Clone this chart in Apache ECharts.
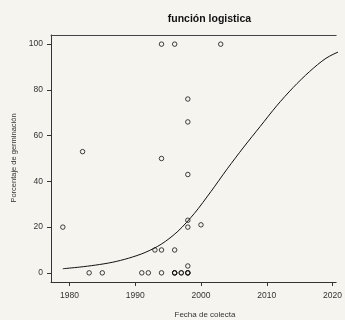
<!DOCTYPE html>
<html>
<head>
<meta charset="utf-8">
<script src="https://cdn.jsdelivr.net/npm/echarts@6/dist/echarts.min.js"></script>
<style>
html,body{margin:0;padding:0;background:#f6f4ef;}
#chart{width:345px;height:320px;}
</style>
</head>
<body>
<div id="chart"></div>
<script>
// Observed points
var pointYears  = [1979,1982,1983,1985,1991,1992,1993,1994,1994,1994,1994,1996,1996,1996,1996,1996,1997,1997,1998,1998,1998,1998,1998,1998,1998,1998,1998,2000,2003];
var pointValues = [20,  53,  0,   0,   0,   0,   10,  100, 50,  10,  0,   100, 10,  0,   0,   0,   0,   0,   76,  66,  43,  23,  20,  3,   0,   0,   0,   21,  100];
// Fitted logistic curve
var curveYears  = [1979,1981.5,1984,1986.5,1989,1991.5,1994,1996.5,1999,2001.5,2004,2006.5,2009,2011.5,2014,2016.5,2019,2021.5,2024];
var curveValues = [1.8, 2.5,   3.4, 4.6,   6.4, 8.9,   12.6,18.2,  26,  35.5,  45.5,55,    64,  73,    81,  88,    93.8,97.3,  99];
// Tick labels
var xTicks = [1980,1990,2000,2010,2020];
var yTicks = [0,20,40,60,80,100];

var scatterData = pointYears.map(function(y,i){return [y, pointValues[i]];});
var curveData = curveYears.map(function(y,i){return [y, curveValues[i]];});

var chart = echarts.init(document.getElementById('chart'), null, {renderer:'canvas'});
var font = 'Liberation Sans, Arial, Helvetica, sans-serif';
var fmt = function(v){return String(v);};
chart.setOption({
  backgroundColor:'#f6f4ef',
  animation:false,
  title:{
    text:'función logistica',
    left:204.5, top:9, textAlign:'center',
    textStyle:{fontFamily:font, fontSize:10.5, fontWeight:'bold', color:'#111'}
  },
  grid:{left:51, top:35, bottom:38, right:0, show:false},
  xAxis:[{
    type:'value', min:1977.2, max:2020.55, position:'bottom',
    axisLine:{show:true, onZero:false, lineStyle:{color:'#333', width:1}},
    splitLine:{show:false},
    axisTick:{show:true, length:4, inside:false, customValues:xTicks, lineStyle:{color:'#333'}},
    axisLabel:{show:true, margin:9, customValues:xTicks, formatter:fmt, fontFamily:font, fontSize:8.5, color:'#333'}
  },{
    type:'value', min:1977.2, max:2020.55, position:'top',
    axisLine:{show:true, onZero:false, lineStyle:{color:'#444', width:1}},
    splitLine:{show:false}, axisTick:{show:false}, axisLabel:{show:false}
  }],
  yAxis:{
    type:'value', min:-4, max:104,
    axisLine:{show:true, onZero:false, lineStyle:{color:'#333', width:1}},
    splitLine:{show:false},
    axisTick:{show:true, length:4, inside:false, customValues:yTicks, lineStyle:{color:'#333'}},
    axisLabel:{show:true, margin:8, customValues:yTicks, formatter:fmt, fontFamily:font, fontSize:8.5, color:'#333'}
  },
  graphic:[
    {type:'text', x:205, y:315, style:{text:'Fecha de colecta', textAlign:'center', textVerticalAlign:'middle', font:'8px '+font, fill:'#333'}},
    {type:'text', x:14, y:158, rotation:Math.PI/2, style:{text:'Porcentaje de germinación', textAlign:'center', textVerticalAlign:'middle', font:'7.5px '+font, fill:'#333'}}
  ],
  series:[
    {type:'line', data:curveData, smooth:0.3, showSymbol:false, symbol:'none',
     lineStyle:{color:'#111', width:1}, clip:true, z:2},
    {type:'scatter', data:scatterData, symbol:'circle', symbolSize:4.5,
     itemStyle:{color:'rgba(0,0,0,0)', borderColor:'#111', borderWidth:1}, z:3}
  ]
});
</script>
</body>
</html>
